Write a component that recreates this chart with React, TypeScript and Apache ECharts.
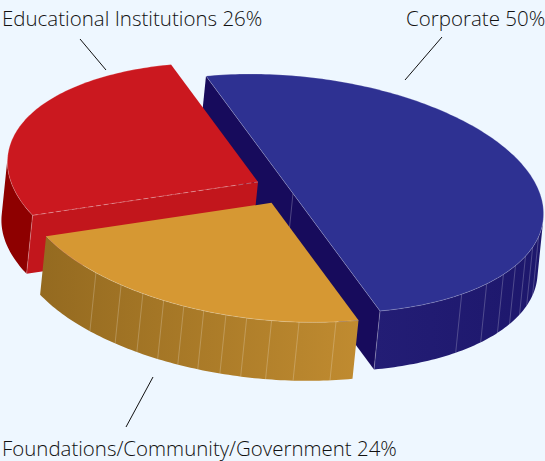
import React, { useEffect, useRef } from "react";
import * as echarts from "echarts";

const categories = ["Corporate", "Foundations/Community/Government", "Educational Institutions"];
const shares = [50, 24, 26];

const BG = "#EEF7FF";
const TOP = ["#2E3192", "#D69833", "#CB181F"];
const CENTERS = [[293, 193.5], [271.5, 202.8], [258, 182]];
const DRAW_ORDER = [0, 20, 10];
const E1 = [235, -22];
const E2 = [87, 117.5];
const DEPTH = [-6, 58.5];
const SKEW = 2; // degrees of perspective skew on the pie angle
const OUTER_START = [23, null, 203];
const OUTER_COLORS = [["#1D176C", "#231D75"], ["#C08B30", "#946A20"], ["#8E0000", "#8E0000"]];
const CUT_WALL = ["#170B5C", null, "#C2161C"];
const RIB_ANGLES = [
  [31.8, 37.3, 42.2, 47.7, 53.2, 59.7, 68],
  [95.4, 104, 110.3, 116, 120.8, 126, 130.8, 135.8, 141.2, 147.2, 154.8],
  [],
];
const LEADERS = [[[405, 80], [442, 37]], [[153, 377], [126, 427]], [[106, 70], [80, 39]]];
const LABEL_POS = [[406, 18], [2, 448], [2, 18]];
const LABEL_SIZE = [20.5, 20.45, 20.5];

const rad = (d: number) => (d * Math.PI) / 180;
const warp = (d: number) => d + SKEW * Math.cos(rad(d));
const pt = (c: number[], d: number) => [
  c[0] + E1[0] * Math.cos(rad(d)) + E2[0] * Math.sin(rad(d)),
  c[1] + E1[1] * Math.cos(rad(d)) + E2[1] * Math.sin(rad(d)),
];
const down = (p: number[]) => [p[0] + DEPTH[0], p[1] + DEPTH[1]];
const arc = (c: number[], a: number, b: number) => {
  const out: number[][] = [];
  const n = Math.ceil(Math.abs(b - a));
  for (let i = 0; i <= n; i++) out.push(pt(c, a + ((b - a) * i) / n));
  return out;
};

export default function App() {
  const ref = useRef<HTMLDivElement>(null);
  useEffect(() => {
    document.body.style.margin = "0";
    document.body.style.background = BG;
    const chart = echarts.init(ref.current!, null, { renderer: "svg" });
    const total = shares.reduce((a, b) => a + b, 0);
    const renderItem = (params: any, api: any) => {
      const i = params.dataIndex;
      const before = shares.slice(0, i).reduce((a, b) => a + b, 0);
      const start = warp(-90 + (before / total) * 360);
      const end = warp(-90 + ((before + api.value(0)) / total) * 360);
      const c = CENTERS[i];
      const children: any[] = [];
      const add = (el: any) => {
        children.push({ ...el, z2: DRAW_ORDER[i] + children.length * 0.01 });
      };
      const line = (a: number[], b: number[], stroke: string, width = 0.8, lineDash?: number[]) =>
        add({
          type: "line",
          shape: { x1: a[0], y1: a[1], x2: b[0], y2: b[1] },
          style: { stroke, lineWidth: width, lineDash },
        });
      // outer wall
      const wallFrom = i === 0 ? (OUTER_START[0] as number) : start;
      const wallTo = i === 2 ? (OUTER_START[2] as number) : end;
      const topArc = arc(c, wallFrom, wallTo);
      add({
        type: "polygon",
        shape: { points: [...topArc, ...topArc.slice().reverse().map(down)] },
        style: {
          fill: new echarts.graphic.LinearGradient(1, 0, 0, 0, [
            { offset: 0, color: OUTER_COLORS[i][0] },
            { offset: 1, color: OUTER_COLORS[i][1] },
          ]),
        },
      });
      // radial wall that faces the viewer
      if (CUT_WALL[i]) {
        const rim = i === 0 ? pt(c, end) : pt(c, start);
        const b = i === 0 ? pt(c, start) : c;
        add({
          type: "polygon",
          shape: { points: [rim, b, down(b), down(rim)] },
          style: { fill: CUT_WALL[i] as string },
        });
        line(rim, down(rim), "rgba(255,255,255,0.35)");
        if (i === 0) line(c, down(c), "rgba(255,255,255,0.3)");
      }
      RIB_ANGLES[i].forEach((d) => {
        const p = pt(c, d);
        line(p, down(p), "rgba(255,255,255,0.28)");
      });
      // top face
      const rim = arc(c, start, end);
      add({
        type: "polygon",
        shape: { points: [c, ...rim] },
        style: { fill: TOP[i] },
      });
      add({
        type: "polyline",
        shape: { points: rim },
        style: { stroke: "rgba(255,255,255,0.3)", lineWidth: 0.7, fill: "none" },
      });
      if (i === 0) line(pt(c, start), pt(c, end), "rgba(255,255,255,0.35)", 0.7);
      if (i === 2) line(pt(c, start), c, "rgba(255,255,255,0.4)", 0.8, [5, 3]);
      return { type: "group", children };
    };
    chart.setOption({
      animation: false,
      backgroundColor: BG,
      series: [
        {
          type: "custom",
          coordinateSystem: "none",
          silent: true,
          clip: false,
          renderItem,
          data: shares.map((v) => [v]),
          encode: { value: 0 },
        },
      ],
      graphic: categories.flatMap((name, i) => [
        {
          type: "line",
          silent: true,
          shape: { x1: LEADERS[i][0][0], y1: LEADERS[i][0][1], x2: LEADERS[i][1][0], y2: LEADERS[i][1][1] },
          style: { stroke: "#111", lineWidth: 1 },
        },
        {
          type: "text",
          silent: true,
          x: LABEL_POS[i][0],
          y: LABEL_POS[i][1],
          style: {
            text: `${name} ${shares[i]}%`,
            font: `300 ${LABEL_SIZE[i]}px "Open Sans"`,
            fill: "#111",
            verticalAlign: "middle",
          },
        },
      ]),
    });
    return () => chart.dispose();
  }, []);
  return <div ref={ref} style={{ width: 545, height: 461, overflow: "hidden" }} />;
}
